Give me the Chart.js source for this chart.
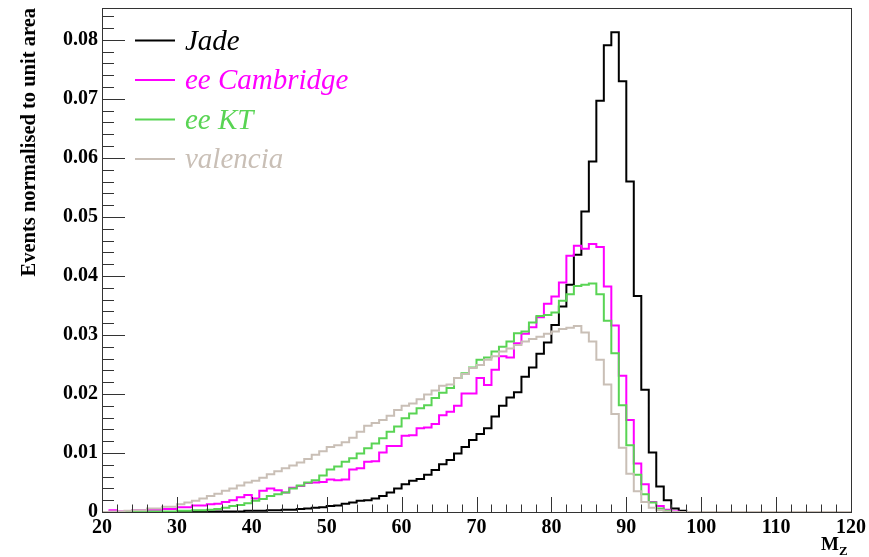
<!DOCTYPE html>
<html>
<head>
<meta charset="utf-8">
<script src="https://cdn.jsdelivr.net/npm/chart.js@4.4.0/dist/chart.umd.min.js"></script>
<style>
  html, body { margin: 0; padding: 0; background: #fff; }
  #wrap { width: 869px; height: 557px; }
</style>
</head>
<body>
<div id="wrap"><canvas id="c" width="869" height="557"></canvas></div>
<script>
// histogram: 1 GeV bins, low edges 20..119
const binStart = 20;
const binEnd = 120;

const jade = [
    0, 0, 0, 0, 0, 0, 0, 0, 0, 0,
    0, 0, 0.0001, 0.0001, 0.0001, 0.0001, 0.0001, 0.0001, 0.0001, 0.0002,
    0.0002, 0.0002, 0.0003, 0.0003, 0.0004, 0.0004, 0.0005, 0.0006, 0.0007, 0.0008,
    0.0010, 0.0011, 0.0014, 0.0016, 0.0019, 0.0020, 0.0023, 0.0027, 0.0033, 0.0040,
    0.0047, 0.0053, 0.0056, 0.0063, 0.0071, 0.0081, 0.0088, 0.0099, 0.0110, 0.0122,
    0.0132, 0.0142, 0.0162, 0.0180, 0.0194, 0.0203, 0.0229, 0.0245, 0.0268, 0.0287,
    0.0317, 0.0348, 0.0385, 0.0436, 0.0509, 0.0594, 0.0697, 0.0791, 0.0813, 0.0730,
    0.0560, 0.0366, 0.0207, 0.0101, 0.0043, 0.0020, 0.0006, 0.0002, 0, 0,
    0, 0, 0, 0, 0, 0, 0, 0, 0, 0,
    0, 0, 0, 0, 0, 0, 0, 0, 0, 0
];

const eeCambridge = [
    0, 0.0003, 0.0001, 0.0001, 0.0003, 0.0003, 0.0004, 0.0004, 0.0005, 0.0005,
    0.0008, 0.0008, 0.0011, 0.0011, 0.0013, 0.0014, 0.0017, 0.0020, 0.0025, 0.0029,
    0.0023, 0.0036, 0.0040, 0.0037, 0.0033, 0.0041, 0.0044, 0.0049, 0.0050, 0.0051,
    0.0055, 0.0054, 0.0055, 0.0072, 0.0074, 0.0085, 0.0086, 0.0101, 0.0112, 0.0112,
    0.0129, 0.0130, 0.0142, 0.0143, 0.0149, 0.0164, 0.0170, 0.0180, 0.0201, 0.0201,
    0.0227, 0.0215, 0.0241, 0.0264, 0.0262, 0.0286, 0.0302, 0.0313, 0.0330, 0.0353,
    0.0365, 0.0389, 0.0434, 0.0451, 0.0446, 0.0454, 0.0449, 0.0382, 0.0316, 0.0231,
    0.0156, 0.0082, 0.0047, 0.0017, 0.0010, 0.0004, 0.0001, 0, 0, 0,
    0, 0, 0, 0, 0, 0, 0, 0, 0, 0,
    0, 0, 0, 0, 0, 0, 0, 0, 0, 0
];

const eeKT = [
    0, 0, 0, 0, 0.0001, 0.0001, 0.0001, 0.0001, 0.0001, 0.0001,
    0.0002, 0.0002, 0.0003, 0.0003, 0.0004, 0.0005, 0.0007, 0.0010, 0.0012, 0.0015,
    0.0019, 0.0022, 0.0027, 0.0030, 0.0033, 0.0040, 0.0045, 0.0050, 0.0054, 0.0062,
    0.0072, 0.0077, 0.0085, 0.0091, 0.0099, 0.0108, 0.0116, 0.0125, 0.0136, 0.0145,
    0.0159, 0.0167, 0.0176, 0.0181, 0.0193, 0.0202, 0.0210, 0.0227, 0.0235, 0.0245,
    0.0258, 0.0262, 0.0272, 0.0280, 0.0289, 0.0303, 0.0306, 0.0321, 0.0332, 0.0334,
    0.0338, 0.0358, 0.0369, 0.0383, 0.0385, 0.0387, 0.0369, 0.0324, 0.0269, 0.0181,
    0.0113, 0.0063, 0.0030, 0.0016, 0.0006, 0.0002, 0, 0, 0, 0,
    0, 0, 0, 0, 0, 0, 0, 0, 0, 0,
    0, 0, 0, 0, 0, 0, 0, 0, 0, 0
];

const valencia = [
    0, 0.0001, 0.0001, 0.0002, 0.0003, 0.0003, 0.0006, 0.0006, 0.0009, 0.0009,
    0.0013, 0.0016, 0.0019, 0.0023, 0.0027, 0.0031, 0.0036, 0.0040, 0.0045, 0.0050,
    0.0053, 0.0058, 0.0064, 0.0069, 0.0074, 0.0079, 0.0084, 0.0090, 0.0097, 0.0103,
    0.0110, 0.0113, 0.0118, 0.0126, 0.0136, 0.0146, 0.0151, 0.0156, 0.0163, 0.0173,
    0.0180, 0.0184, 0.0191, 0.0199, 0.0206, 0.0214, 0.0216, 0.0227, 0.0234, 0.0244,
    0.0249, 0.0258, 0.0264, 0.0272, 0.0277, 0.0283, 0.0289, 0.0293, 0.0297, 0.0302,
    0.0306, 0.0310, 0.0312, 0.0315, 0.0304, 0.0289, 0.0258, 0.0216, 0.0166, 0.0109,
    0.0065, 0.0035, 0.0017, 0.0007, 0.0003, 0.0001, 0, 0, 0, 0,
    0, 0, 0, 0, 0, 0, 0, 0, 0, 0,
    0, 0, 0, 0, 0, 0, 0, 0, 0, 0
];

const seriesNames = ['Jade', 'ee Cambridge', 'ee KT', 'valencia'];
const seriesColors = ['#000000', '#ff00ff', '#59d454', '#c9bfb6'];
const yMax = 0.0854;
const serif = '"Liberation Serif", "Times New Roman", serif';

// step points at the low edge of every bin, closed at the upper edge of the range
function toSteps(values) {
    const pts = values.map((v, i) => ({ x: binStart + i, y: v }));
    pts.push({ x: binEnd, y: values[values.length - 1] });
    return pts;
}

const rootFrame = {
    id: 'rootFrame',
    afterDatasetsDraw(chart) {
        const { ctx, chartArea: a, scales } = chart;
        ctx.save();
        ctx.strokeStyle = '#333';
        ctx.lineWidth = 1;
        ctx.beginPath();
        // x ticks, every 2, major every 10 (pointing into the frame)
        for (let v = binStart; v <= binEnd; v += 2) {
            const px = Math.round(scales.x.getPixelForValue(v)) + 0.5;
            const len = (v % 10 === 0) ? 15 : 7.5;
            ctx.moveTo(px, a.bottom);
            ctx.lineTo(px, a.bottom - len);
        }
        // y ticks, every 0.002, major every 0.01
        for (let i = 0; i * 0.002 <= yMax; i++) {
            const py = Math.round(scales.y.getPixelForValue(i * 0.002)) + 0.5;
            const len = (i % 5 === 0) ? 23 : 12;
            ctx.moveTo(a.left, py);
            ctx.lineTo(a.left + len, py);
        }
        ctx.stroke();
        ctx.strokeRect(Math.round(a.left) + 0.5, Math.round(a.top) + 0.5,
            Math.round(a.right - a.left), Math.round(a.bottom - a.top));

        // legend
        seriesNames.forEach((name, i) => {
            const y = a.top + 32.5 + i * 39.5;
            ctx.strokeStyle = seriesColors[i];
            ctx.lineWidth = 2;
            ctx.beginPath();
            ctx.moveTo(a.left + 33, y);
            ctx.lineTo(a.left + 73, y);
            ctx.stroke();
            ctx.fillStyle = seriesColors[i];
            ctx.font = 'italic 29px ' + serif;
            ctx.textAlign = 'left';
            ctx.textBaseline = 'alphabetic';
            ctx.fillText(name, a.left + 83, y + 9);
        });

        // x axis title M_Z
        ctx.fillStyle = '#000';
        ctx.font = 'bold 19px ' + serif;
        ctx.fillText('M', 821, 550);
        ctx.font = 'bold 13px ' + serif;
        ctx.fillText('Z', 839, 555);
        ctx.restore();
    }
};

new Chart(document.getElementById('c'), {
    type: 'line',
    data: {
        datasets: [jade, eeCambridge, eeKT, valencia].map((vals, i) => ({
            label: seriesNames[i],
            data: toSteps(vals),
            borderColor: seriesColors[i],
            borderWidth: 2,
            pointRadius: 0,
            stepped: true,
            fill: false,
            order: 4 - i
        }))
    },
    options: {
        responsive: false,
        animation: false,
        devicePixelRatio: 1,
        layout: { padding: { top: 8, right: 18, left: 0, bottom: 0 } },
        plugins: {
            legend: { display: false },
            tooltip: { enabled: false }
        },
        scales: {
            x: {
                type: 'linear',
                min: binStart,
                max: binEnd,
                grid: { display: false, drawTicks: false },
                border: { display: false },
                ticks: {
                    stepSize: 10,
                    autoSkip: false,
                    maxRotation: 0,
                    padding: 4,
                    color: '#000',
                    font: { family: serif, size: 20, weight: 'bold' }
                },
                afterFit(scale) {
                    scale.height = 45;
                    scale.paddingLeft = 0;
                    scale.paddingRight = 0;
                }
            },
            y: {
                min: 0,
                max: yMax,
                grid: { display: false, drawTicks: false },
                border: { display: false },
                ticks: {
                    stepSize: 0.01,
                    includeBounds: false,
                    padding: 4,
                    color: '#000',
                    font: { family: serif, size: 20, weight: 'bold' },
                    callback: v => v === 0 ? '0' : Number(v).toFixed(2)
                },
                title: {
                    display: true,
                    text: 'Events normalised to unit area',
                    align: 'end',
                    color: '#000',
                    font: { family: serif, size: 20.5, weight: 'bold' },
                    padding: { top: 17, bottom: 0 }
                },
                afterFit(scale) {
                    scale.width = 102;
                    scale.paddingTop = 0;
                    scale.paddingBottom = 0;
                }
            }
        }
    },
    plugins: [rootFrame]
});
</script>
</body>
</html>
